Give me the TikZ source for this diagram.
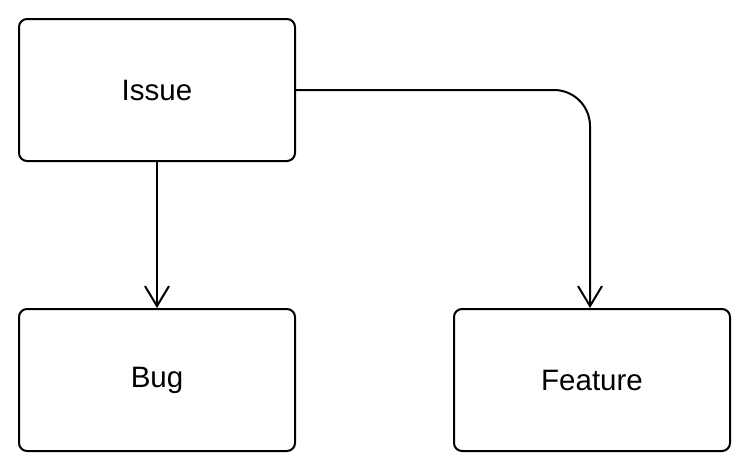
\documentclass[tikz,border=0pt]{standalone}
\usepackage{fontspec}
\setmainfont{Liberation Sans}
\usetikzlibrary{arrows.meta}
\begin{document}
\begin{tikzpicture}[x=1pt,y=-1pt,
  box/.style={draw=black,line width=2pt,rounded corners=8pt,minimum width=276pt,minimum height=142pt,inner sep=0pt,font=\fontsize{29.5}{34}\selectfont},
  conn/.style={draw=black,line width=2pt,-{Straight Barb[length=20pt,width=24pt,line width=2pt]}}]
\useasboundingbox (0,0) rectangle (750,474);
\node[box] (issue) at (157,90) {Issue};
\node[box] (bug) at (157,380) {Bug};
\node[box] (feature) at (592,380) {Feature};
\draw[conn] (issue.south) -- (bug.north);
\draw[conn,rounded corners=36pt] (issue.east) -| ([xshift=-2pt]feature.north);
\end{tikzpicture}
\end{document}
